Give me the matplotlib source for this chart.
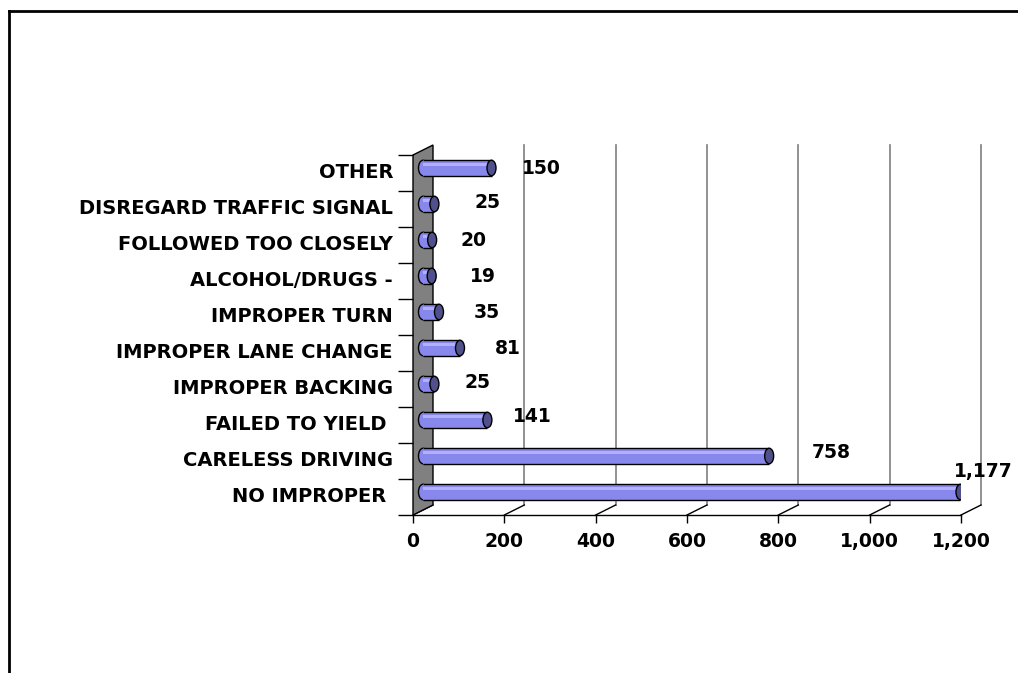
import matplotlib
matplotlib.use('Agg')
import matplotlib.pyplot as plt
from matplotlib.patches import Ellipse, Polygon
from matplotlib.lines import Line2D
import numpy as np

# data, bottom to top
categories = ['NO IMPROPER ', 'CARELESS DRIVING', 'FAILED TO YIELD ', 'IMPROPER BACKING',
              'IMPROPER LANE CHANGE', 'IMPROPER TURN', 'ALCOHOL/DRUGS -',
              'FOLLOWED TOO CLOSELY', 'DISREGARD TRAFFIC SIGNAL', 'OTHER']
counts = [1177, 758, 141, 25, 81, 35, 19, 20, 25, 150]
x_ticks = [0, 200, 400, 600, 800, 1000, 1200]
x_labels = ['0', '200', '400', '600', '800', '1,000', '1,200']

# where excel dropped each value label (pixels from the front bar end)
label_dx = [33, 72, 55, 53, 58, 58, 61, 51, 63, 60]
label_dy = [25, 9, 8, 6, 4, 4, 5, 4, 6, 5]

body = '#8888ec'
light = '#b0b0ff'
cap = '#50508c'
wall = '#808080'
grid = '#7f7f7f'

plt.rcParams['font.family'] = 'DejaVu Sans'
plt.rcParams['font.weight'] = 'bold'

fig = plt.figure(figsize=(10.18, 6.73), dpi=100)
ax = fig.add_axes([413 / 1018, (673 - 515) / 673, 548 / 1018, 360 / 673])
ax.set_xlim(0, 1200)
ax.set_ylim(-0.5, 9.5)

# depth offsets (px -> data units)
ppx = 548 / 1200
ppy = 36.0
DXb, DYb = 20 / ppx, 10 / ppy   # back wall
DXm, DYm = 10 / ppx, 5 / ppy    # middle of depth (bars)

ypos = np.arange(len(categories))

# side wall
wall_pts = [(0, -0.5), (0, 9.5), (DXb, 9.5 + DYb), (DXb, -0.5 + DYb)]
ax.add_patch(Polygon(wall_pts, closed=True, fc=wall, ec='black', lw=1, zorder=1, clip_on=False))

# back grid + floor lines
for t in x_ticks[1:]:
    ax.plot([t + DXb, t + DXb], [-0.5 + DYb, 9.5 + DYb], color=grid, lw=1.2, zorder=0.5, clip_on=False)
for t in x_ticks:
    ax.plot([t, t + DXb], [-0.5, -0.5 + DYb], color='black', lw=1, zorder=0.6, clip_on=False)

# cylinders
h = 0.43
ew = 9 / ppx
yb = ypos + DYm
ax.barh(yb, counts, left=DXm, height=h, color=body, zorder=3)
ax.barh(yb + 0.09, counts, left=DXm, height=0.08, color=light, zorder=3.2)
ax.hlines(yb + h / 2, DXm, np.array(counts) + DXm, color='black', lw=1, zorder=3.5)
ax.hlines(yb - h / 2, DXm, np.array(counts) + DXm, color='black', lw=1, zorder=3.5)
for y, v in zip(yb, counts):
    ax.add_patch(Ellipse((DXm, y), ew, h, fc=body, ec='black', lw=1, zorder=2.5))
    ax.add_patch(Ellipse((v + DXm, y), ew, h, fc=cap, ec='black', lw=1, zorder=4))

# value labels
for y, v, dx, dy in zip(ypos, counts, label_dx, label_dy):
    ax.annotate(f'{v:,}', xy=(v, y), xytext=(dx, dy), textcoords='offset pixels',
                ha='center', va='center', fontsize=13.5, fontweight='bold',
                annotation_clip=False)

# axes
for s in ['left', 'right', 'top']:
    ax.spines[s].set_visible(False)
ax.spines['bottom'].set_color('black')
ax.spines['bottom'].set_linewidth(1)

ax.set_xticks(x_ticks, labels=x_labels)
ax.tick_params(axis='x', length=5.8, width=1, pad=6.5, labelsize=13.5)

ax.set_yticks(np.arange(-0.5, 10, 1))
ax.set_yticklabels([])
ax.tick_params(axis='y', which='major', length=10.8, width=1)
ax.set_yticks(ypos + 0.08, labels=categories, minor=True)
ax.tick_params(axis='y', which='minor', length=0, pad=14.4, labelsize=14)

# frame of the chart area
fig.add_artist(Line2D([9 / 1018, 1], [1 - 11 / 673] * 2, color='black', lw=2, transform=fig.transFigure))
fig.add_artist(Line2D([9 / 1018] * 2, [0, 1 - 11 / 673], color='black', lw=2, transform=fig.transFigure))

fig.savefig('out.png', dpi=100)
